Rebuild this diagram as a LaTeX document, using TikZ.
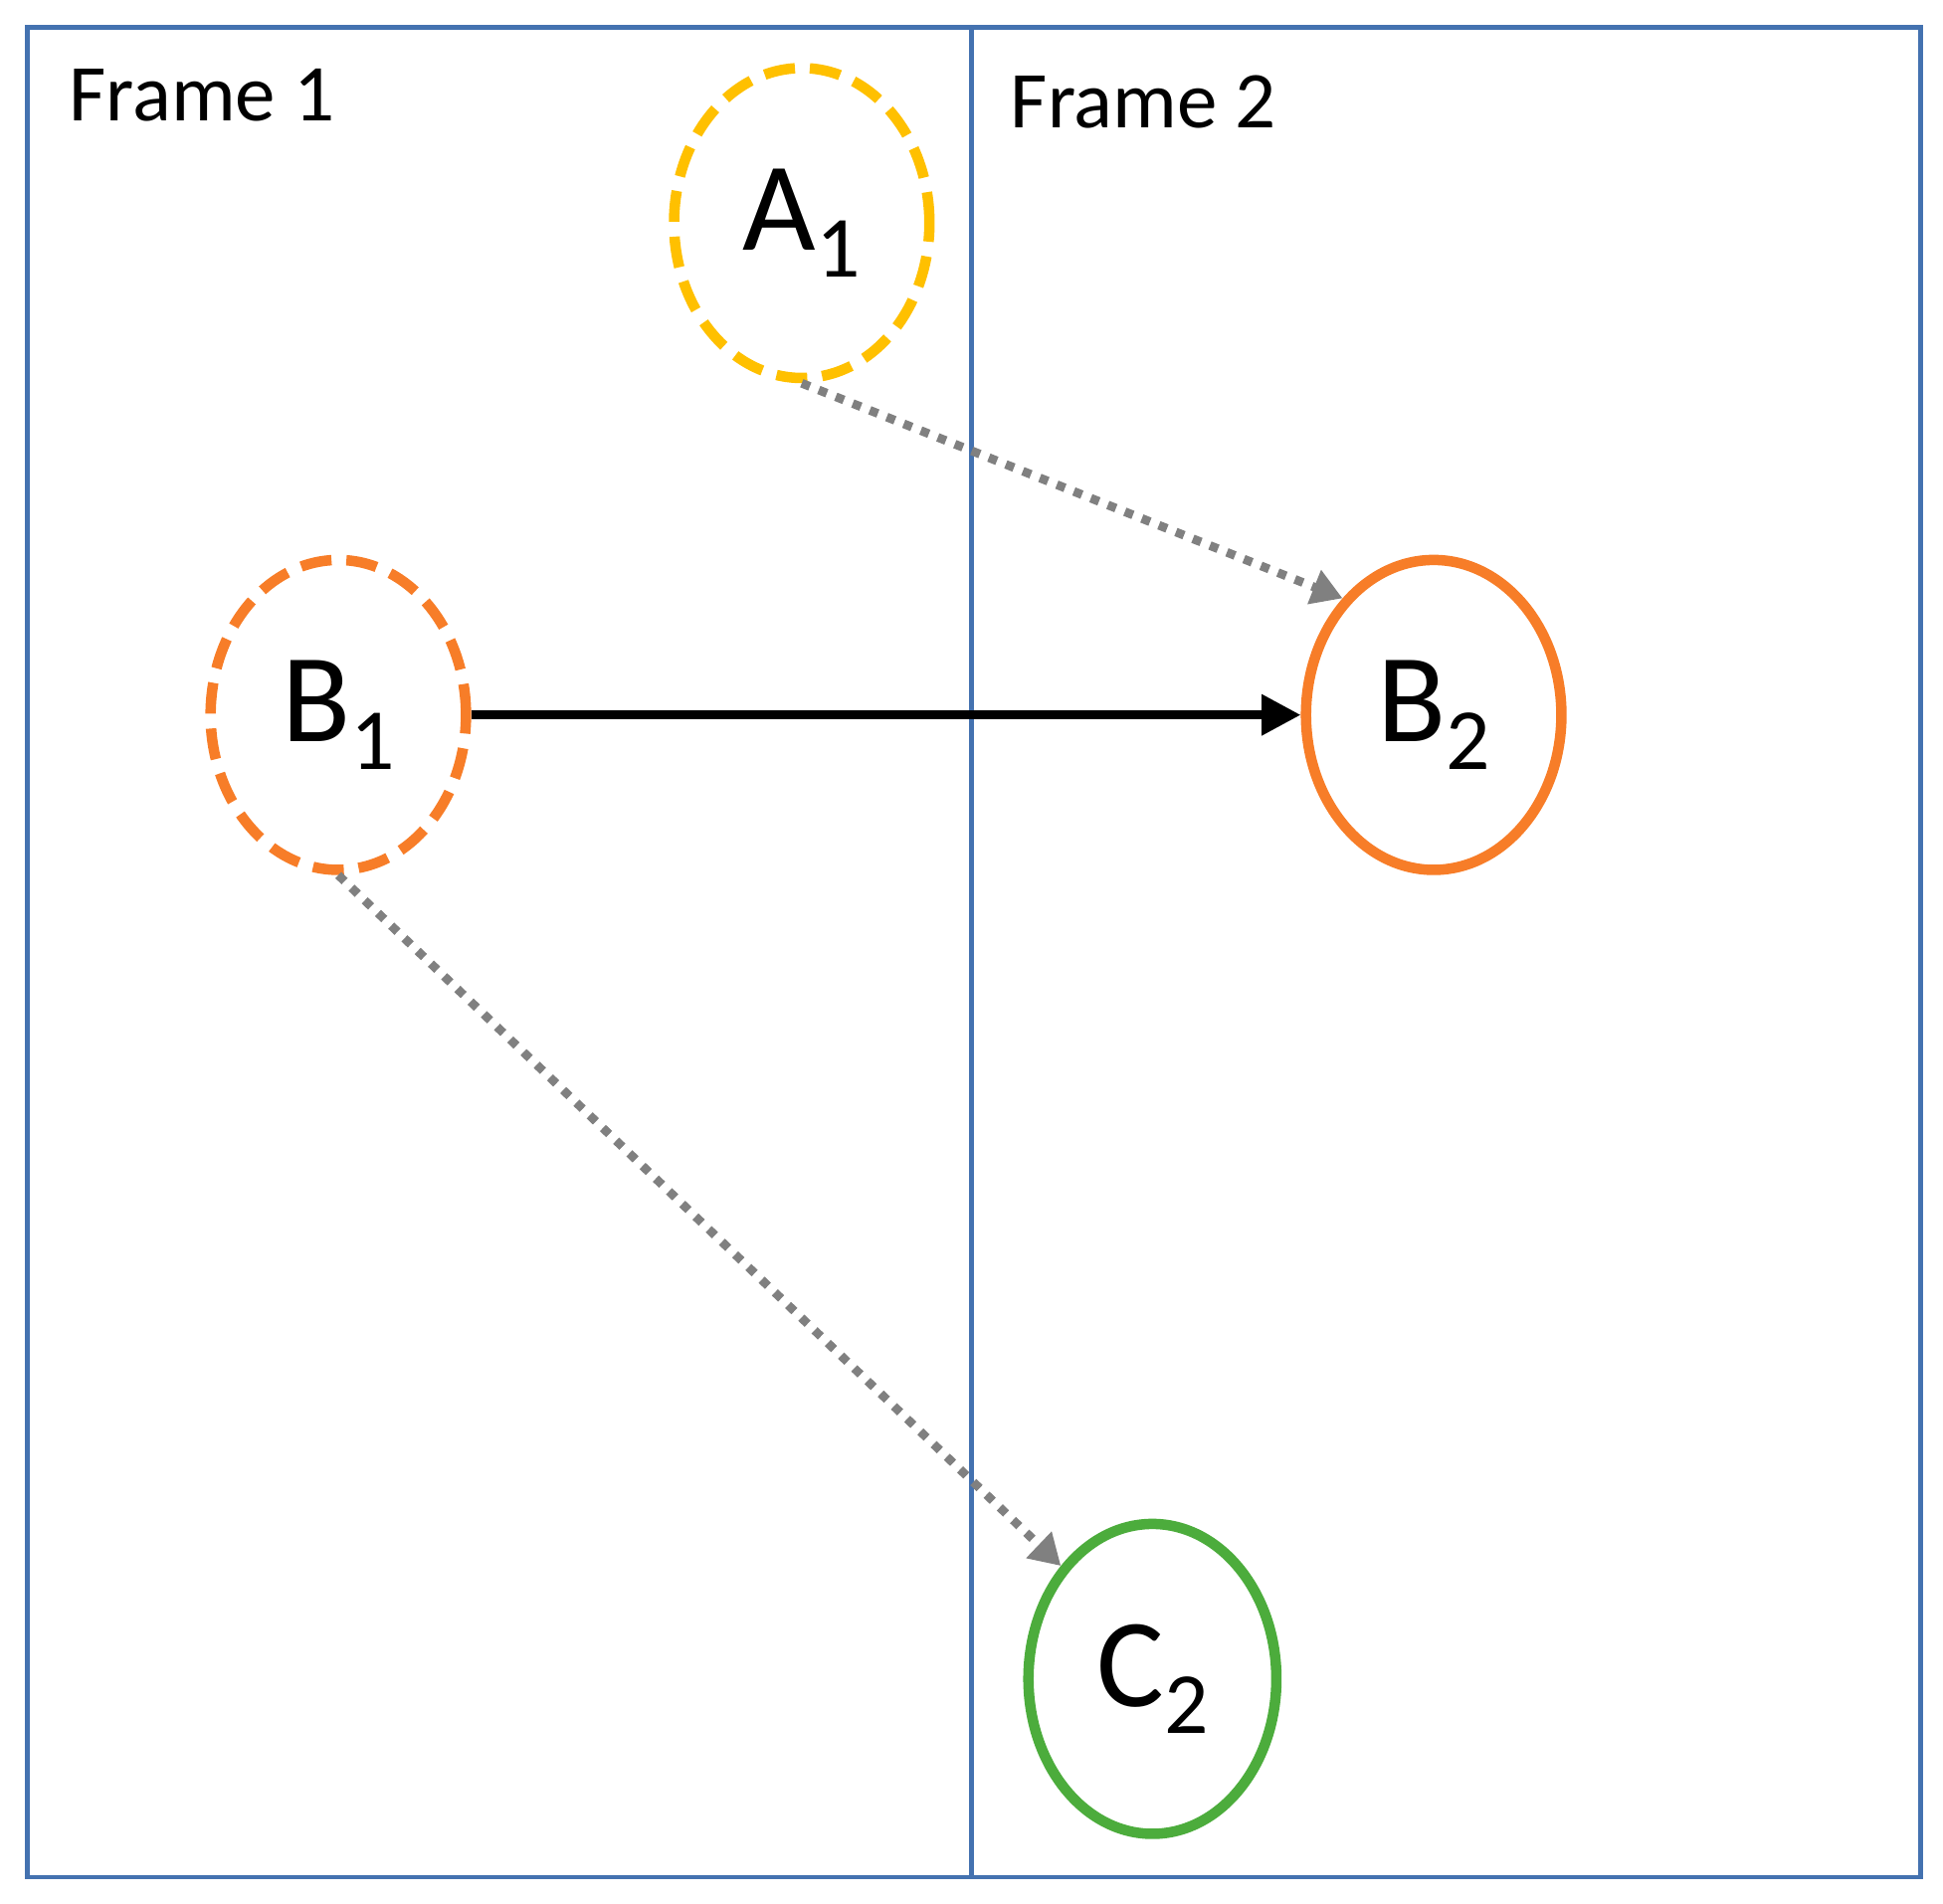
\documentclass[tikz,border=0pt]{standalone}
\usepackage{fontspec}
\setmainfont{Carlito}
\usetikzlibrary{arrows.meta,shapes.geometric}
\definecolor{framblue}{RGB}{68,114,176}
\definecolor{aorange}{RGB}{255,192,0}
\definecolor{borange}{RGB}{247,125,40}
\definecolor{cgreen}{RGB}{76,172,60}
\newcommand{\sbx}[1]{\raisebox{-0.45ex}{\fontsize{20}{22}\selectfont #1}}
\tikzset{
  obj/.style={ellipse,minimum width=2.06cm,minimum height=2.5cm,line width=2.4pt,font=\fontsize{29}{32}\selectfont,inner sep=0pt},
  ghost/.style={obj,dash pattern=on 0.25cm off 0.12cm},
  link/.style={gray,line width=2pt,dash pattern=on 2pt off 2.2pt,-{Triangle[length=7pt,width=8pt]}},
  lbl/.style={anchor=north west,font=\fontsize{18.5}{20}\selectfont,inner sep=0pt}
}
\begin{document}
\begin{tikzpicture}[x=0.01cm,y=-0.01cm]
\useasboundingbox (0,0) rectangle (1568,1536);
\draw[framblue,line width=1pt] (22,22) rectangle (1550,1515);
\draw[framblue,line width=1pt] (784,22) -- (784,1515);
\node[lbl] (f1) at (55,55) {Frame 1};
\node[lbl] (f2) at (815,60) {Frame 2};
\node[ghost,draw=aorange] (a1) at (647,180) {A\sbx{1}};
\node[ghost,draw=borange] (b1) at (273,577) {B\sbx{1}};
\node[obj,draw=borange] (b2) at (1157,577) {B\sbx{2}};
\node[obj,draw=cgreen,minimum width=2cm] (c2) at (930,1355) {C\sbx{2}};
\draw[link] (a1.south) -- (b2.128);
\draw[link] (b1.south) -- (c2.129);
\draw[line width=2pt,-{Triangle[length=9pt,width=9pt]}] (b1.east) -- (b2.west);
\end{tikzpicture}
\end{document}
